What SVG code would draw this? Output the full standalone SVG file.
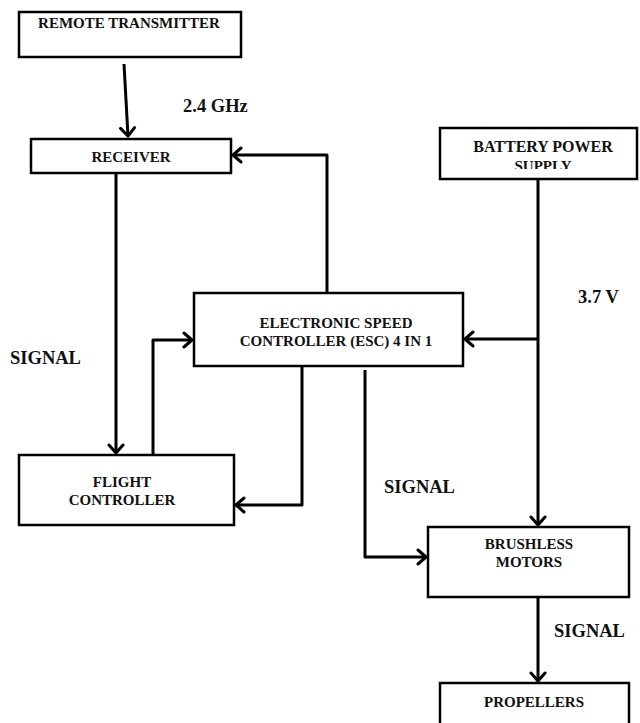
<svg xmlns="http://www.w3.org/2000/svg" width="640" height="723" viewBox="0 0 640 723">
<style>
.box{fill:#fff;stroke:#000;stroke-width:2.5}
.t{font-family:"Liberation Serif","Times New Roman",serif;font-weight:bold;font-size:15px;fill:#111;text-anchor:middle}
.lbl{font-family:"Liberation Serif","Times New Roman",serif;font-weight:bold;font-size:18.5px;fill:#111}
.c{fill:none;stroke:#000;stroke-width:3;stroke-linejoin:round}
</style>
<defs>
<marker id="ah" markerUnits="userSpaceOnUse" viewBox="-11 -9 13 18" refX="0" refY="0" markerWidth="13" markerHeight="18" orient="auto">
<path d="M-8,-7 L0,0 L-8,7" fill="none" stroke="#000" stroke-width="3" stroke-linecap="round" stroke-linejoin="round"/>
</marker>
<clipPath id="supclip"><rect x="440" y="150" width="200" height="19"/></clipPath>
</defs>
<rect width="640" height="723" fill="#fff"/>
<g id="connectors">
<path class="c" d="M124,64 L128,136" marker-end="url(#ah)"/>
<path class="c" d="M327,293 L327,155 L233,155" marker-end="url(#ah)"/>
<path class="c" d="M116,173 L116,453" marker-end="url(#ah)"/>
<path class="c" d="M153,455 L153,340 L192,340" marker-end="url(#ah)"/>
<path class="c" d="M302,366 L302,505 L236,505" marker-end="url(#ah)"/>
<path class="c" d="M538,339 L465,339" marker-end="url(#ah)"/>
<path class="c" d="M538,179 L538,525" marker-end="url(#ah)"/>
<path class="c" d="M365,370 L365,557 L426,557" marker-end="url(#ah)"/>
<path class="c" d="M538,597 L538,681" marker-end="url(#ah)"/>
</g>
<g id="remote-transmitter">
<rect class="box" x="19" y="12" width="222" height="45"/>
<text class="t" x="129" y="28">REMOTE TRANSMITTER</text>
</g>
<g id="receiver">
<rect class="box" x="31" y="139" width="200" height="34"/>
<text class="t" x="131" y="162">RECEIVER</text>
</g>
<g id="battery">
<rect class="box" x="440" y="128" width="197" height="51"/>
<text class="t" x="543" y="152" style="font-size:16px">BATTERY POWER</text>
<text class="t" x="543" y="171" clip-path="url(#supclip)">SUPPLY</text>
</g>
<g id="esc">
<rect class="box" x="194" y="293" width="269" height="73"/>
<text class="t" x="336" y="328">ELECTRONIC SPEED</text>
<text class="t" x="336" y="346">CONTROLLER (ESC) 4 IN 1</text>
</g>
<g id="flight-controller">
<rect class="box" x="19" y="455" width="215" height="70"/>
<text class="t" x="122" y="487">FLIGHT</text>
<text class="t" x="122" y="505">CONTROLLER</text>
</g>
<g id="brushless-motors">
<rect class="box" x="428" y="527" width="201" height="70"/>
<text class="t" x="529" y="549">BRUSHLESS</text>
<text class="t" x="529" y="567">MOTORS</text>
</g>
<g id="propellers">
<rect class="box" x="440" y="683" width="189" height="50"/>
<text class="t" x="534" y="707">PROPELLERS</text>
</g>
<g id="labels">
<text class="lbl" x="183" y="112">2.4 GHz</text>
<text class="lbl" x="578" y="303">3.7 V</text>
<text class="lbl" x="10" y="364">SIGNAL</text>
<text class="lbl" x="384" y="493">SIGNAL</text>
<text class="lbl" x="554" y="637">SIGNAL</text>
</g>
</svg>
